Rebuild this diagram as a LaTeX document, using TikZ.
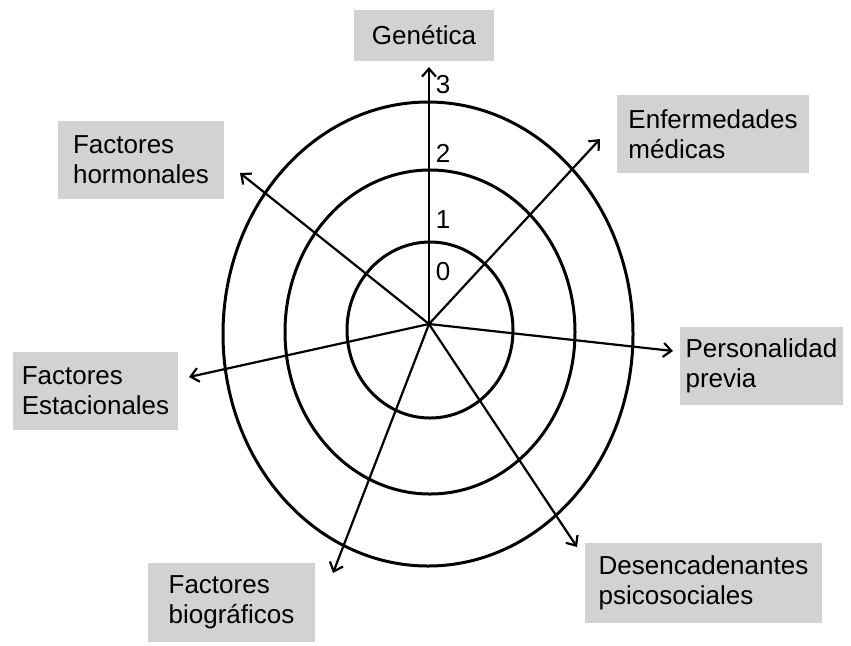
\documentclass[tikz,border=0pt]{standalone}
\usepackage{fontspec}
\setmainfont{Liberation Sans}
\usetikzlibrary{arrows.meta}
\tikzset{
  factor/.style={fill=gray!35, align=left, inner sep=0pt, font=\fontsize{13}{15}\selectfont},
  num/.style={inner sep=0pt, font=\fontsize{13}{15}\selectfont},
  ring/.style={line width=1.5pt},
  axis/.style={-{Straight Barb[length=4pt,width=7pt]}, line width=1.1pt}
}
\begin{document}
\begin{tikzpicture}[x={(0.5pt,0)}, y={(0,-0.5pt)}]
\useasboundingbox (0,0) rectangle (851,645);

\draw[ring] (430,330) ellipse [x radius=83, y radius=88];
\draw[ring] (430,332) ellipse [x radius=145, y radius=162];
\draw[ring] (428,334) ellipse [x radius=205, y radius=232];

\coordinate (o) at (429,324);
\coordinate (gen-tip) at (429,67);
\coordinate (enf-tip) at (600,139);
\coordinate (hor-tip) at (240,173);
\coordinate (est-tip) at (189,377);
\coordinate (per-tip) at (673,351);
\coordinate (bio-tip) at (333,573);
\coordinate (des-tip) at (577,547);

\draw[axis] (o) -- (gen-tip);
\draw[axis] (o) -- (enf-tip);
\draw[axis] (o) -- (hor-tip);
\draw[axis] (o) -- (est-tip);
\draw[axis] (o) -- (per-tip);
\draw[axis] (o) -- (bio-tip);
\draw[axis] (o) -- (des-tip);

\node[num] (n0) at (443,272) {0};
\node[num] (n1) at (443,220) {1};
\node[num] (n2) at (443,153) {2};
\node[num] (n3) at (443,85) {3};

\node[factor, minimum width=70pt, minimum height=25.5pt] (gen) at (424,35.5) {Genética};
\node[factor, minimum width=96pt, minimum height=39pt] (enf) at (713,134) {Enfermedades\\médicas};
\node[factor, minimum width=83pt, minimum height=39pt] (hor) at (141,160) {Factores\\hormonales};
\node[factor, minimum width=82.5pt, minimum height=39pt] (est) at (95.5,391) {Factores\\Estacionales};
\node[factor, minimum width=81.5pt, minimum height=39pt] (per) at (761.5,366) {Personalidad\\previa};
\node[factor, minimum width=83.5pt, minimum height=39.5pt] (bio) at (231.5,602.5) {Factores\\biográficos};
\node[factor, minimum width=118.5pt, minimum height=40pt] (des) at (703.5,583) {Desencadenantes\\psicosociales};

\end{tikzpicture}
\end{document}
